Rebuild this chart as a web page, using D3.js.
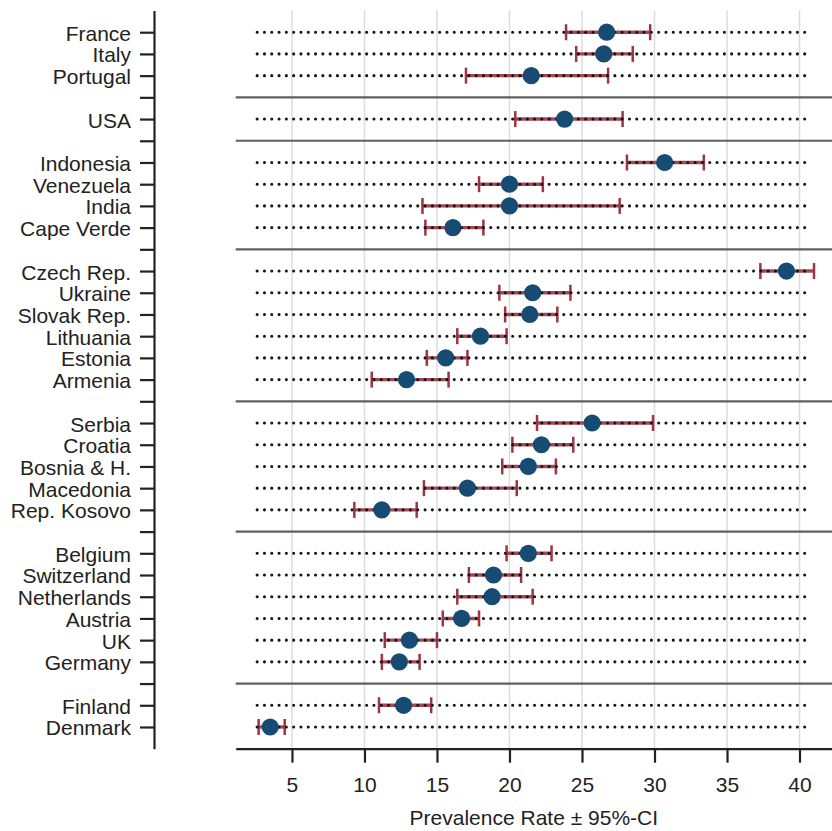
<!DOCTYPE html>
<html>
<head>
<meta charset="utf-8">
<script src="https://cdn.jsdelivr.net/npm/d3@7"></script>
<style>
  body { margin: 0; background: #fff; }
  svg text { font-family: "Liberation Sans", Arial, sans-serif; fill: #222; }
</style>
</head>
<body>
<div id="chart"></div>
<script>
// countries top to bottom, groups separated by a line
const countries = ["France", "Italy", "Portugal",
  "USA",
  "Indonesia", "Venezuela", "India", "Cape Verde",
  "Czech Rep.", "Ukraine", "Slovak Rep.", "Lithuania", "Estonia", "Armenia",
  "Serbia", "Croatia", "Bosnia & H.", "Macedonia", "Rep. Kosovo",
  "Belgium", "Switzerland", "Netherlands", "Austria", "UK", "Germany",
  "Finland", "Denmark"];
const groupSizes = [3, 1, 4, 6, 5, 6, 2];

const prevalence = [26.7, 26.5, 21.5,
  23.8,
  30.7, 20.0, 20.0, 16.1,
  39.1, 21.6, 21.4, 18.0, 15.6, 12.9,
  25.7, 22.2, 21.3, 17.1, 11.2,
  21.3, 18.9, 18.8, 16.7, 13.1, 12.4,
  12.7, 3.5];
const ciLow = [23.9, 24.6, 17.0,
  20.4,
  28.1, 17.9, 14.0, 14.2,
  37.3, 19.3, 19.7, 16.4, 14.3, 10.5,
  21.9, 20.2, 19.5, 14.1, 9.3,
  19.8, 17.2, 16.4, 15.4, 11.4, 11.2,
  11.0, 2.7];
const ciHigh = [29.7, 28.5, 26.8,
  27.8,
  33.4, 22.3, 27.6, 18.2,
  41.0, 24.2, 23.3, 19.8, 17.1, 15.8,
  29.9, 24.4, 23.2, 20.5, 13.6,
  22.9, 20.8, 21.6, 17.9, 15.0, 13.8,
  14.6, 4.5];

const xTicks = [5, 10, 15, 20, 25, 30, 35, 40];
const xTitle = "Prevalence Rate \u00b1 95%-CI";
const guideRange = [2.6, 40.5];

const width = 832, height = 831;
const fontSize = 21;

// row positions: countries plus an empty slot between groups
const rows = [];
const separators = [];
let idx = 0, c = 0;
groupSizes.forEach((n, g) => {
  for (let k = 0; k < n; k++) {
    rows.push({ i: idx, name: countries[c], v: prevalence[c], lo: ciLow[c], hi: ciHigh[c] });
    idx++; c++;
  }
  if (g < groupSizes.length - 1) { separators.push(idx); idx++; }
});
const nSlots = idx;

const svg = d3.select("#chart").append("svg")
  .attr("width", width).attr("height", height);

const x = d3.scaleLinear().domain([1.12, 42.24]).range([235.7, 832]);
const y = d3.scaleLinear().domain([-1, nSlots]).range([10.5, 748.7]);

// vertical grid
svg.append("g").selectAll("line")
  .data(xTicks).enter().append("line")
  .attr("x1", d => x(d)).attr("x2", d => x(d))
  .attr("y1", y(-1)).attr("y2", y(nSlots))
  .attr("stroke", "#dcdcdc").attr("stroke-width", 1.5);

// group separators
svg.append("g").selectAll("line")
  .data(separators).enter().append("line")
  .attr("x1", x.range()[0]).attr("x2", x.range()[1])
  .attr("y1", d => y(d)).attr("y2", d => y(d))
  .attr("stroke", "#606060").attr("stroke-width", 2.2);

// error bars
const eb = svg.append("g").selectAll("g").data(rows).enter().append("g");
eb.append("line")
  .attr("x1", d => x(d.lo)).attr("x2", d => x(d.hi))
  .attr("y1", d => y(d.i)).attr("y2", d => y(d.i))
  .attr("stroke", "#9b3443").attr("stroke-width", 3.4).attr("stroke-opacity", 0.9);
eb.selectAll("line.cap").data(d => [[d.lo, d.i], [d.hi, d.i]]).enter().append("line")
  .attr("class", "cap")
  .attr("x1", d => x(d[0])).attr("x2", d => x(d[0]))
  .attr("y1", d => y(d[1]) - 8).attr("y2", d => y(d[1]) + 8)
  .attr("stroke", "#9b3443").attr("stroke-width", 2.5);

// dotted guide lines
svg.append("g").selectAll("line")
  .data(rows).enter().append("line")
  .attr("x1", x(guideRange[0])).attr("x2", x(guideRange[1]))
  .attr("y1", d => y(d.i)).attr("y2", d => y(d.i))
  .attr("stroke", "#151515").attr("stroke-width", 3.1)
  .attr("stroke-linecap", "round").attr("stroke-dasharray", "0,7.3");

// points
svg.append("g").selectAll("circle")
  .data(rows).enter().append("circle")
  .attr("cx", d => x(d.v)).attr("cy", d => y(d.i))
  .attr("r", 8.6).attr("fill", "#164b73");

// axes
const labelOf = {};
rows.forEach(r => labelOf[r.i] = r.name);

const yAxis = d3.axisLeft(y)
  .tickValues(d3.range(0, nSlots))
  .tickFormat(d => labelOf[d] || "")
  .tickSize(14).tickSizeOuter(0).tickPadding(9);
const gy = svg.append("g").attr("transform", "translate(154,0)").call(yAxis);
gy.selectAll("text").attr("dy", "0.38em");

const xAxis = d3.axisBottom(x)
  .tickValues(xTicks)
  .tickSize(14).tickSizeOuter(0).tickPadding(14);
const gx = svg.append("g").attr("transform", `translate(0,${y(nSlots)})`).call(xAxis);

[gx, gy].forEach(g => {
  g.attr("font-size", fontSize).attr("font-family", "Liberation Sans, Arial, sans-serif");
  g.select(".domain").attr("stroke", "#222").attr("stroke-width", 2.2);
  g.selectAll(".tick line").attr("stroke", "#222").attr("stroke-width", 2.2);
  g.selectAll("text").style("fill", "#222");
});

svg.append("text")
  .attr("x", (x.range()[0] + x.range()[1]) / 2)
  .attr("y", 825)
  .attr("text-anchor", "middle")
  .attr("font-size", fontSize)
  .text(xTitle);
</script>
</body>
</html>
